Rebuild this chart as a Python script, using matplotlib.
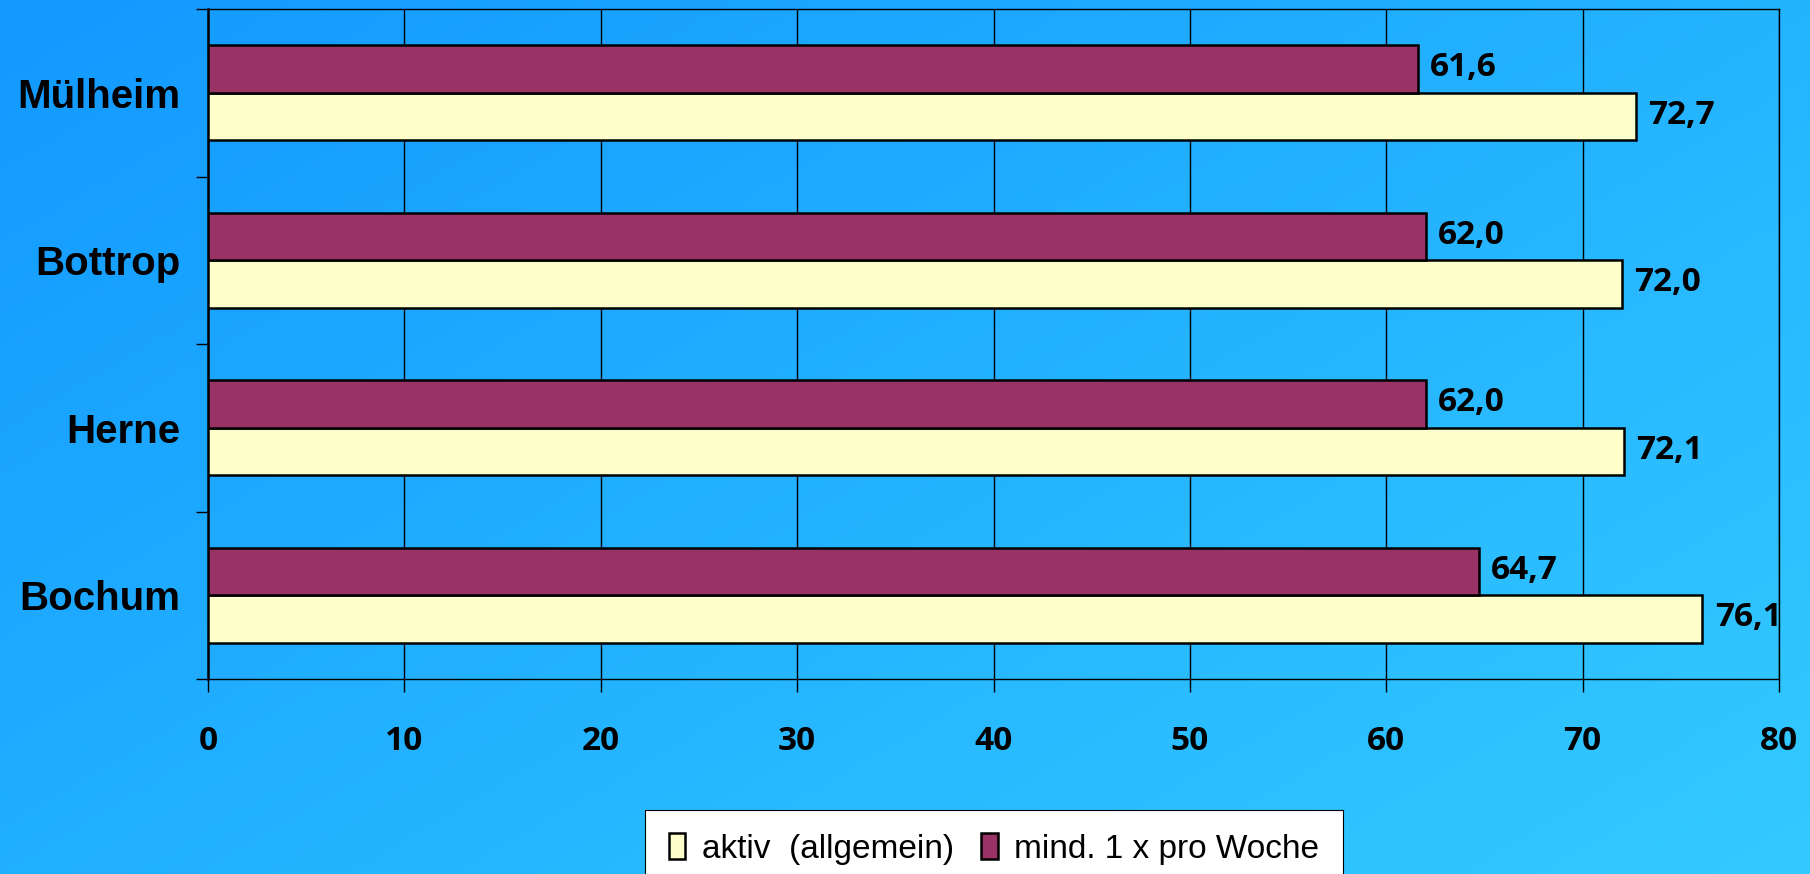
import numpy as np
import matplotlib
matplotlib.use("Agg")
import matplotlib.pyplot as plt
from matplotlib.patches import Patch

categories = ["Bochum", "Herne", "Bottrop", "Mülheim"]
aktiv = [76.1, 72.1, 72.0, 72.7]
woche = [64.7, 62.0, 62.0, 61.6]
series_names = ["aktiv  (allgemein)", "mind. 1 x pro Woche"]
xticks = [0, 10, 20, 30, 40, 50, 60, 70, 80]

c_yellow = "#FFFFCC"
c_purple = "#993366"

W, H = 1810, 874
fig = plt.figure(figsize=(W / 100, H / 100), dpi=100)

# background gradient
bg = fig.add_axes([0, 0, 1, 1], zorder=-10)
gx, gy = np.meshgrid(np.linspace(0, 1, 400), np.linspace(0, 1, 200))
t = np.clip(0.55 * gx + 0.45 * gy, 0, 1)
c0 = np.array([18, 153, 255]) / 255
c1 = np.array([52, 202, 255]) / 255
img = c0[None, None, :] * (1 - t[..., None]) + c1[None, None, :] * t[..., None]
bg.imshow(img, aspect="auto", extent=[0, 1, 0, 1], origin="upper")
bg.axis("off")

left, right = 208 / W, 1779 / W
top, bottom = 1 - 9 / H, 1 - 679 / H
ax = fig.add_axes([left, bottom, right - left, top - bottom])
ax.patch.set_alpha(0)

y = np.arange(len(categories))
h = 0.284
bars_a = ax.barh(y - h / 2, aktiv, height=h, color=c_yellow, edgecolor="black", linewidth=1.8, zorder=3)
bars_w = ax.barh(y + h / 2, woche, height=h, color=c_purple, edgecolor="black", linewidth=1.8, zorder=3)

lab_font = dict(fontsize=24, fontweight="bold", family=["Open Sans", "DejaVu Sans"])
for bars, vals in ((bars_a, aktiv), (bars_w, woche)):
    for b, v in zip(bars, vals):
        ax.annotate(f"{v:.1f}".replace(".", ","), (v, b.get_y() + b.get_height() / 2),
                    xytext=(9, 1), textcoords="offset points", va="center", ha="left",
                    color="black", **lab_font)

ax.set_xlim(0, 80)
ax.set_ylim(-0.5, len(categories) - 0.5)
ax.set_xticks(xticks)
ax.set_xticklabels([str(v) for v in xticks], **lab_font)
ax.tick_params(axis="x", length=9, width=1, direction="out", pad=24, colors="black")
ax.set_yticks(y)
ax.set_yticklabels(categories, fontsize=29, fontweight="bold", family=["Liberation Sans", "DejaVu Sans"])
ax.tick_params(axis="y", which="major", length=0, pad=20)
ax.set_yticks(np.arange(-0.5, len(categories), 1), minor=True)
ax.tick_params(axis="y", which="minor", length=9, width=1, direction="out")
ax.grid(axis="x", color="black", linewidth=1, zorder=0)
ax.set_axisbelow(True)
for s in ax.spines.values():
    s.set_color("black")
    s.set_linewidth(1)
ax.spines["left"].set_linewidth(1.8)

handles = [Patch(facecolor=c_yellow, edgecolor="black", linewidth=1.8),
           Patch(facecolor=c_purple, edgecolor="black", linewidth=1.8)]
leg = fig.legend(handles, series_names, loc="upper center", bbox_to_anchor=(994 / W, 1 - 810 / H),
                 ncol=2, frameon=True, fancybox=False, framealpha=1, edgecolor="black",
                 handlelength=0.5, handleheight=0.8, handletextpad=0.5, columnspacing=0.8,
                 borderpad=0.7, borderaxespad=0,
                 prop=dict(family=["Liberation Sans"], size=24))
leg.get_frame().set_linewidth(0.8)

fig.savefig("out.png", dpi=100)
